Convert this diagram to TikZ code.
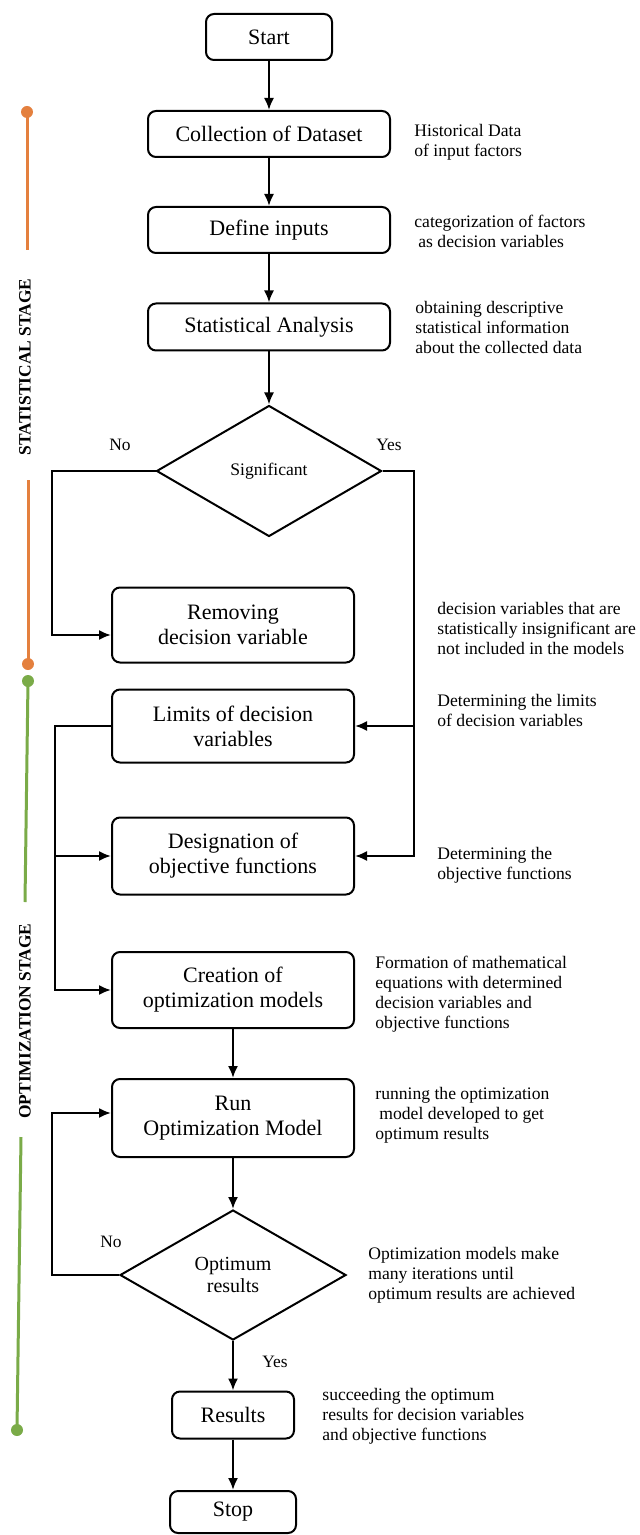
\documentclass[tikz,border=0pt]{standalone}
\usepackage{fontspec}
\setmainfont{Liberation Serif}
\usepackage{xcolor}
\usepackage{tikz}
\usetikzlibrary{shapes.geometric}
\usetikzlibrary{arrows.meta}
\definecolor{stageorange}{RGB}{228,128,62}
\definecolor{stagegreen}{RGB}{122,171,72}

\begin{document}
\begin{tikzpicture}[x=0.5pt,y=-0.5pt,
  box/.style={draw,line width=1pt,rounded corners=4pt,align=center,inner sep=0pt,font=\fontsize{11}{12.5}\selectfont},
  dec/.style={draw,diamond,line width=1pt,inner sep=0pt,align=center},
  note/.style={anchor=west,align=left,inner sep=0pt,font=\fontsize{8.8}{10}\selectfont},
  lbl/.style={inner sep=0pt,font=\fontsize{8.7}{10}\selectfont},
  arr/.style={-{Latex[length=6pt,width=5pt]},line width=1pt},
  stage/.style={rotate=90,inner sep=0pt,font=\bfseries\fontsize{8.7}{10}\selectfont}]
 	\useasboundingbox (0,0) rectangle (640,1535);
 	% stage bars
 	\draw[stageorange,line width=1.5pt] (27,112) -- (27,250);
 	\draw[stageorange,line width=1.5pt] (28,480) -- (28,664);
 	\fill[stageorange] (27,112) circle (3pt);
 	\fill[stageorange] (28,664) circle (3pt);
 	\draw[stagegreen,line width=1.5pt] (28,681) -- (25,902);
 	\draw[stagegreen,line width=1.5pt] (21,1137) -- (17,1430);
 	\fill[stagegreen] (28,681) circle (3pt);
 	\fill[stagegreen] (17,1430) circle (3pt);
 	\node[stage] (statstage) at (25,367) {STATISTICAL STAGE};
 	\node[stage] (optstage) at (25,1021) {OPTIMIZATION STAGE};
 	% boxes
 	\node[box,minimum width=63pt,minimum height=23pt] (start) at (269,37) {Start};
 	\node[box,minimum width=121pt,minimum height=23pt] (coll) at (269,134) {Collection of Dataset};
 	\node[box,minimum width=121pt,minimum height=23pt] (def) at (269,230) {Define inputs};
 	\node[box,minimum width=121pt,minimum height=23.5pt] (stat) at (269,327) {Statistical Analysis};
 	\node[dec,minimum width=112.5pt,minimum height=65.5pt,font=\fontsize{8.8}{10}\selectfont] (sig) at (269,471) {Significant};
 	\node[box,minimum width=121pt,minimum height=37.5pt] (rem) at (233,625) {Removing\\decision variable};
 	\node[box,minimum width=121pt,minimum height=36.5pt] (lim) at (233,726) {Limits of decision\\variables};
 	\node[box,minimum width=121pt,minimum height=38.5pt] (des) at (233,856) {Designation of\\objective functions};
 	\node[box,minimum width=121pt,minimum height=38pt] (cre) at (233,990) {Creation of\\optimization models};
 	\node[box,minimum width=121pt,minimum height=39pt] (run) at (233,1118) {Run\\Optimization Model};
 	\node[dec,minimum width=113pt,minimum height=65pt,font=\fontsize{10}{11}\selectfont] (opt) at (233,1275) {Optimum\\results};
 	\node[box,minimum width=61pt,minimum height=23.5pt] (res) at (233,1415) {Results};
 	\node[box,minimum width=63pt,minimum height=21pt] (stop) at (233,1512) {Stop};
 	% notes
 	\node[note] (n1) at (414,142) {Historical Data\\of input factors};
 	\node[note] (n2) at (414,231) {categorization of factors\\\hspace{2pt}as decision variables};
 	\node[note] (n3) at (415,327) {obtaining descriptive\\statistical information\\about the collected data};
 	\node[note] (n4) at (437,628) {decision variables that are\\statistically insignificant are\\not included in the models};
 	\node[note] (n5) at (437,710) {Determining the limits\\of decision variables};
 	\node[note] (n6) at (437,865) {Determining the\\objective functions};
 	\node[note] (n7) at (375,994) {Formation of mathematical\\equations with determined\\decision variables and\\objective functions};
 	\node[note] (n8) at (375,1115) {running the optimization\\\hspace{2pt}model developed to get\\optimum results};
 	\node[note] (n9) at (368,1275) {Optimization models make\\many iterations until\\optimum results are achieved};
 	\node[note] (n10) at (322,1416) {succeeding the optimum\\results for decision variables\\and objective functions};
 	% labels
 	\node[lbl] (no1) at (120,445) {No};
 	\node[lbl] (yes1) at (389,445) {Yes};
 	\node[lbl] (no2) at (111,1242) {No};
 	\node[lbl] (yes2) at (275,1362) {Yes};
 	% connectors
 	\draw[arr] (start) -- (coll);
 	\draw[arr] (coll) -- (def);
 	\draw[arr] (def) -- (stat);
 	\draw[arr] (stat) -- (sig);
 	\coordinate (nobend) at (52,471);
 	\draw[arr] (sig.west) -- (nobend) |- ([yshift=-5pt]rem.west);
 	\coordinate (yesbend) at (414,471);
 	\draw[arr] (sig.east) -- (yesbend) |- (des.east);
 	\draw[arr] (yesbend |- lim.east) -- (lim.east);
 	\coordinate (limbend) at (55,726);
 	\draw[arr] (lim.west) -- (limbend) |- (cre.west);
 	\draw[arr] (limbend |- des.west) -- (des.west);
 	\draw[arr] (cre) -- (run);
 	\draw[arr] (run) -- (opt);
 	\coordinate (optbend) at (52,1275);
 	\draw[arr] (opt.west) -- (optbend) |- ([yshift=2.5pt]run.west);
 	\draw[arr] (opt) -- (res);
 	\draw[arr] (res) -- (stop);
\end{tikzpicture}
\end{document}
